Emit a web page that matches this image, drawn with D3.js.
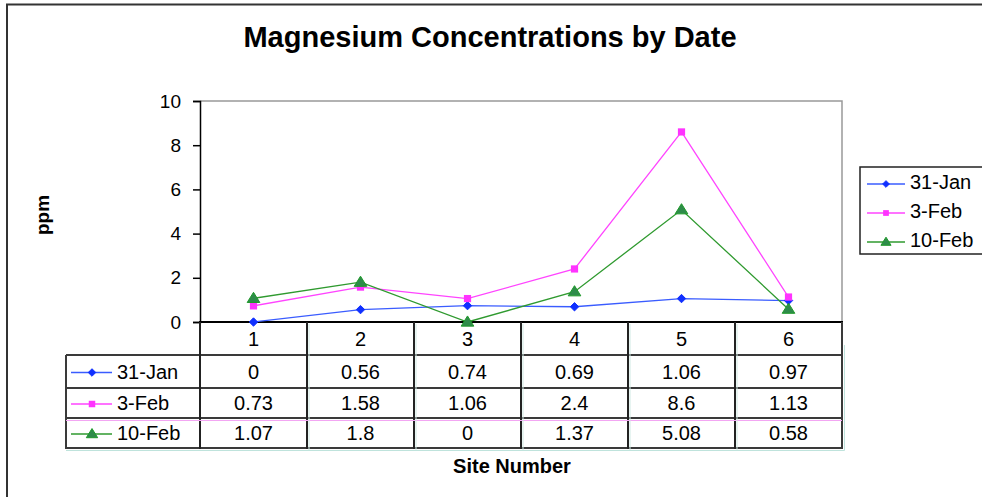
<!DOCTYPE html>
<html>
<head>
<meta charset="utf-8">
<script src="https://cdn.jsdelivr.net/npm/d3@7"></script>
<style>
  html, body { margin: 0; padding: 0; background: #fff; }
  svg { display: block; font-family: "Liberation Sans", Arial, sans-serif; }
</style>
</head>
<body>
<svg id="chart" width="982" height="497"></svg>
<script>
// Magnesium readings (ppm) per site, one array per sampling date
const sites = ["1", "2", "3", "4", "5", "6"];
const jan31 = [0, 0.56, 0.74, 0.69, 1.06, 0.97];
const feb3 = [0.73, 1.58, 1.06, 2.4, 8.6, 1.13];
const feb10 = [1.07, 1.8, 0, 1.37, 5.08, 0.58];
const seriesNames = ["31-Jan", "3-Feb", "10-Feb"];
const yTicks = [0, 2, 4, 6, 8, 10];

const series = [
  { name: seriesNames[0], values: jan31, line: "#3a5cff", fill: "#1030ff", stroke: "#1030ff", shape: "diamond" },
  { name: seriesNames[1], values: feb3, line: "#ff44ff", fill: "#ff33ff", stroke: "#ff33ff", shape: "square" },
  { name: seriesNames[2], values: feb10, line: "#2f9a2f", fill: "#2e8b4a", stroke: "#1f9a2a", shape: "triangle" }
];

const svg = d3.select("#chart");
const FS = 20; // body text size

// Plot frame
const plot = { left: 200, right: 842, top: 101, bottom: 322 };
const x = d3.scaleBand().domain(sites).range([plot.left, plot.right]);
const y = d3.scaleLinear().domain([0, 10]).range([plot.bottom, plot.top]);

// Outer chart border (top and left edges show)
svg.append("path")
  .attr("d", "M7,1000V4.5H1000")
  .attr("fill", "none").attr("stroke", "#333").attr("stroke-width", 2);

// Title
svg.append("text")
  .attr("x", 490).attr("y", 47)
  .attr("text-anchor", "middle")
  .attr("font-size", 29).attr("font-weight", "bold")
  .text("Magnesium Concentrations by Date");

// Plot area top/right borders
svg.append("path")
  .attr("d", `M${plot.left},${plot.top}H${plot.right}V${plot.bottom}`)
  .attr("fill", "none").attr("stroke", "#999").attr("stroke-width", 1.5);

// Y axis
const yAxis = d3.axisLeft(y).tickValues(yTicks).tickSize(7).tickPadding(12).tickFormat(d3.format("d"));
const gy = svg.append("g").attr("transform", `translate(${plot.left},0)`).call(yAxis);
gy.select(".domain").attr("stroke", "#000").attr("stroke-width", 1.5);
gy.selectAll(".tick line").attr("stroke", "#000").attr("stroke-width", 1.5);
gy.selectAll(".tick text")
  .attr("font-size", 19).attr("fill", "#000")
  .attr("font-family", "Liberation Sans, Arial, sans-serif");

// Y axis title
svg.append("text")
  .attr("transform", "translate(49,215) rotate(-90)")
  .attr("text-anchor", "middle")
  .attr("font-size", 19).attr("font-weight", "bold")
  .text("ppm");

// Data table beneath the plot
const rowEdges = [plot.bottom, 355, 388, 418, 448];
const tableLeft = 66;
const grid = svg.append("g").attr("stroke", "#3a3a3a").attr("stroke-width", 2).attr("fill", "none");

// faint guide lines under the table
svg.append("line").attr("x1", tableLeft).attr("x2", plot.right)
  .attr("y1", rowEdges[3] + 2.5).attr("y2", rowEdges[3] + 2.5)
  .attr("stroke", "#f3a6f3").attr("stroke-width", 1);
svg.append("path")
  .attr("d", `M${tableLeft},${rowEdges[4] + 2.5}H${plot.right + 2.5}V${plot.bottom + 23}`)
  .attr("fill", "none").attr("stroke", "#bfe3dc").attr("stroke-width", 1);
sites.forEach((s, i) => {
  if (i === 0) return;
  svg.append("line")
    .attr("x1", x(s) + 2).attr("x2", x(s) + 2)
    .attr("y1", plot.bottom + 2).attr("y2", rowEdges[4] + 2)
    .attr("stroke", "#cfe9e3").attr("stroke-width", 1);
});

// horizontal rules
grid.append("line").attr("x1", plot.left - 1).attr("x2", plot.right + 1)
  .attr("y1", plot.bottom).attr("y2", plot.bottom).attr("stroke", "#000");
rowEdges.slice(1).forEach(ry => {
  grid.append("line").attr("x1", tableLeft).attr("x2", plot.right + 1)
    .attr("y1", ry).attr("y2", ry);
});
// vertical rules
grid.append("line").attr("x1", tableLeft).attr("x2", tableLeft)
  .attr("y1", rowEdges[1]).attr("y2", rowEdges[4] + 1);
sites.forEach(s => {
  grid.append("line").attr("x1", x(s)).attr("x2", x(s))
    .attr("y1", plot.bottom).attr("y2", rowEdges[4] + 1).attr("stroke", "#222");
});
grid.append("line").attr("x1", plot.right).attr("x2", plot.right)
  .attr("y1", plot.bottom).attr("y2", rowEdges[4] + 1);

// category labels
svg.append("g").selectAll("text").data(sites).join("text")
  .attr("x", d => x(d) + x.bandwidth() / 2)
  .attr("y", 346)
  .attr("text-anchor", "middle").attr("font-size", FS)
  .text(d => d);

// Marker drawing
function marker(g, shape, cx, cy, s, fill, stroke) {
  if (shape === "diamond") {
    g.append("path").attr("d", `M${cx},${cy - s}L${cx + s},${cy}L${cx},${cy + s}L${cx - s},${cy}Z`)
      .attr("fill", fill).attr("stroke", stroke).attr("stroke-width", 1);
  } else if (shape === "square") {
    g.append("rect").attr("x", cx - s).attr("y", cy - s).attr("width", 2 * s).attr("height", 2 * s)
      .attr("fill", fill).attr("stroke", "none");
  } else {
    g.append("path").attr("d", `M${cx},${cy - s * 1.1}L${cx + s * 1.15},${cy + s * 0.75}L${cx - s * 1.15},${cy + s * 0.75}Z`)
      .attr("fill", fill).attr("stroke", stroke).attr("stroke-width", 1);
  }
}
const markerSize = { diamond: 4.2, square: 3.6, triangle: 5.5 };

// table rows: legend key + values
series.forEach((sr, i) => {
  const top = rowEdges[i + 1], bot = rowEdges[i + 2];
  const cy = (top + bot) / 2;
  const g = svg.append("g");
  g.append("line").attr("x1", 71).attr("x2", 112).attr("y1", cy + 1).attr("y2", cy + 1)
    .attr("stroke", sr.line).attr("stroke-width", 1.5);
  marker(g, sr.shape, 92, cy + 1, markerSize[sr.shape] * 0.9, sr.fill, sr.stroke);
  g.append("text").attr("x", 117).attr("y", cy + 7).attr("font-size", FS).text(sr.name);
  g.selectAll("text.v").data(sr.values).join("text").attr("class", "v")
    .attr("x", (d, j) => x(sites[j]) + x.bandwidth() / 2)
    .attr("y", cy + 7)
    .attr("text-anchor", "middle").attr("font-size", FS)
    .text(d => d);
});

// Series lines and markers
const line = d3.line()
  .x((d, j) => x(sites[j]) + x.bandwidth() / 2)
  .y(d => y(d));
series.forEach(sr => {
  svg.append("path").datum(sr.values)
    .attr("d", line).attr("fill", "none")
    .attr("stroke", sr.line).attr("stroke-width", 1.3);
});
series.forEach(sr => {
  const g = svg.append("g");
  sr.values.forEach((v, j) => {
    marker(g, sr.shape, x(sites[j]) + x.bandwidth() / 2, y(v), markerSize[sr.shape], sr.fill, sr.stroke);
  });
});

// X axis title
svg.append("text")
  .attr("x", 512).attr("y", 473)
  .attr("text-anchor", "middle")
  .attr("font-size", 20).attr("font-weight", "bold")
  .text("Site Number");

// Legend
const lg = svg.append("g");
lg.append("rect").attr("x", 860).attr("y", 167).attr("width", 140).attr("height", 87)
  .attr("fill", "#fff").attr("stroke", "#222").attr("stroke-width", 1.5);
series.forEach((sr, i) => {
  const cy = 183 + i * 29;
  lg.append("line").attr("x1", 867).attr("x2", 905).attr("y1", cy + 1).attr("y2", cy + 1)
    .attr("stroke", sr.line).attr("stroke-width", 1.5);
  marker(lg, sr.shape, 886, cy + 1, markerSize[sr.shape] * 0.8, sr.fill, sr.stroke);
  lg.append("text").attr("x", 910).attr("y", cy + 6).attr("font-size", FS).text(sr.name);
});
</script>
</body>
</html>
